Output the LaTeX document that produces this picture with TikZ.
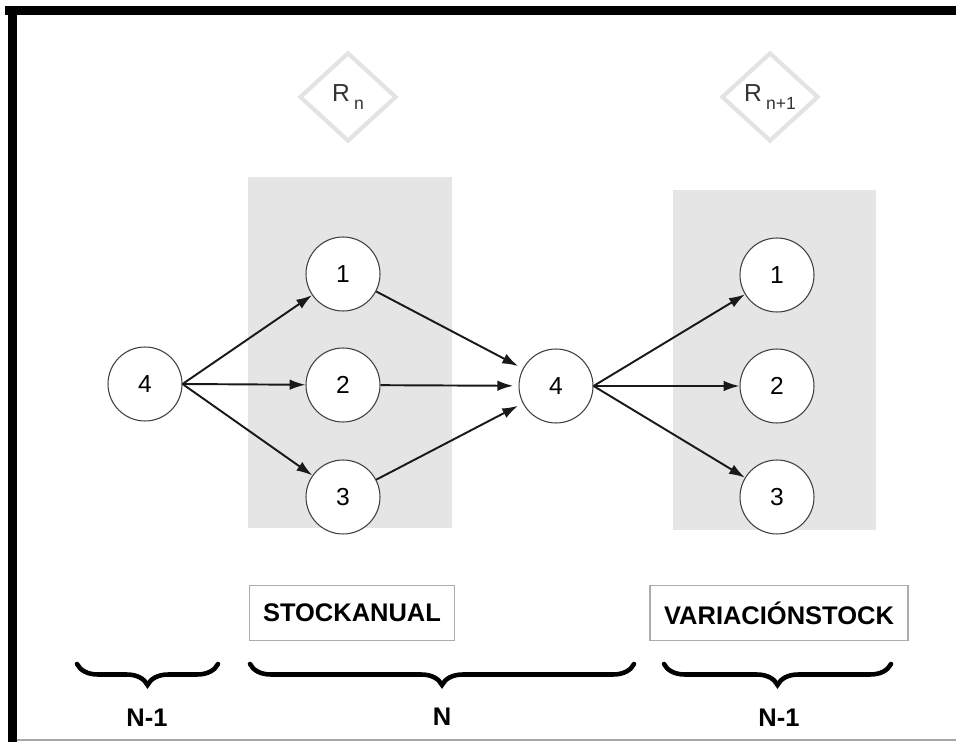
\documentclass[tikz,border=0pt]{standalone}
\usepackage{fontspec}
\setmainfont{Liberation Sans}
\usetikzlibrary{arrows.meta,shapes.geometric,decorations.pathreplacing}

\tikzset{%
  state/.style={
    circle, draw=black!75, fill=white, line width=0.6pt,
    minimum size=1.48cm, inner sep=0pt, font=\fontsize{14}{16}\selectfont
  },
  period/.style={
    diamond, draw=gray!22, line width=2.4pt, minimum width=1.94cm,
    minimum height=1.78cm, inner sep=0pt, font=\fontsize{14}{16}\selectfont,
    text=black!80
  },
  tag/.style={
    draw=gray!65, line width=0.7pt, minimum height=1.1cm, inner sep=0pt,
    font=\bfseries\fontsize{14.5}{16}\selectfont
  },
  flow/.style={
    -{Latex[length=9pt,width=6pt]}, line width=1.1pt, black!90
  },
  span/.style={
    decorate, decoration={brace, mirror, amplitude=0.42cm},
    line width=2.6pt, line cap=round
  }
}

\begin{document}
\begin{tikzpicture}[x=0.02cm, y=-0.02cm]
      \useasboundingbox (0,0) rectangle (956,742);
      % frame
      \fill[black] (5,6) rectangle (956,15);
      \fill[black] (8,6) rectangle (17,742);
      \draw[gray!70, line width=1pt] (17,740) -- (956,740);
      % shaded stages
      \fill[gray!20] (248,177) rectangle (452,528);
      \fill[gray!20] (673,190) rectangle (876,530);
      % periods
      \node[period] at (348,97) (rn) {R\,\raisebox{-0.6ex}{\fontsize{10}{12}\selectfont n}};
      \node[period] at (770,97) (rn1) {R\,\raisebox{-0.6ex}{\fontsize{10}{12}\selectfont n+1}};
      % states
      \node[state] at (145,384) (l4) {4};
      \node[state] at (343,274) (m1) {1};
      \node[state] at (343,385) (m2) {2};
      \node[state] at (343,497) (m3) {3};
      \node[state] at (556,386) (c4) {4};
      \node[state] at (777,275) (r1) {1};
      \node[state] at (777,386) (r2) {2};
      \node[state] at (777,497) (r3) {3};
      \draw[flow] (l4.east) -- (m1);
      \draw[flow] (l4.east) -- (m2);
      \draw[flow] (l4.east) -- (m3);
      \draw[flow, shorten >=3pt] (m1) -- (c4);
      \draw[flow, shorten >=3pt] (m2) -- (c4);
      \draw[flow, shorten >=3pt] (m3) -- (c4);
      \draw[flow] (c4.east) -- (r1);
      \draw[flow] (c4.east) -- (r2);
      \draw[flow] (c4.east) -- (r3);
      % tags
      \node[tag, minimum width=4.1cm] at (352,613) (stock) {STOCKANUAL};
      \node[tag, minimum width=5.16cm] at (779,613) (var) {VARIACIÓNSTOCK};
      % braces
      \coordinate (a0) at (77,664);
      \coordinate (a1) at (218,664);
      \coordinate (b0) at (250,664);
      \coordinate (b1) at (634,664);
      \coordinate (c0) at (664,664);
      \coordinate (c1) at (891,664);
      \draw[span] (a0) -- (a1);
      \draw[span] (b0) -- (b1);
      \draw[span] (c0) -- (c1);
      \node[font=\bfseries\fontsize{14.5}{16}\selectfont] at (147,718) (na) {N-1};
      \node[font=\bfseries\fontsize{14.5}{16}\selectfont] at (442,717) (nb) {N};
      \node[font=\bfseries\fontsize{14.5}{16}\selectfont] at (779,718) (nc) {N-1};
    \end{tikzpicture}
\end{document}
